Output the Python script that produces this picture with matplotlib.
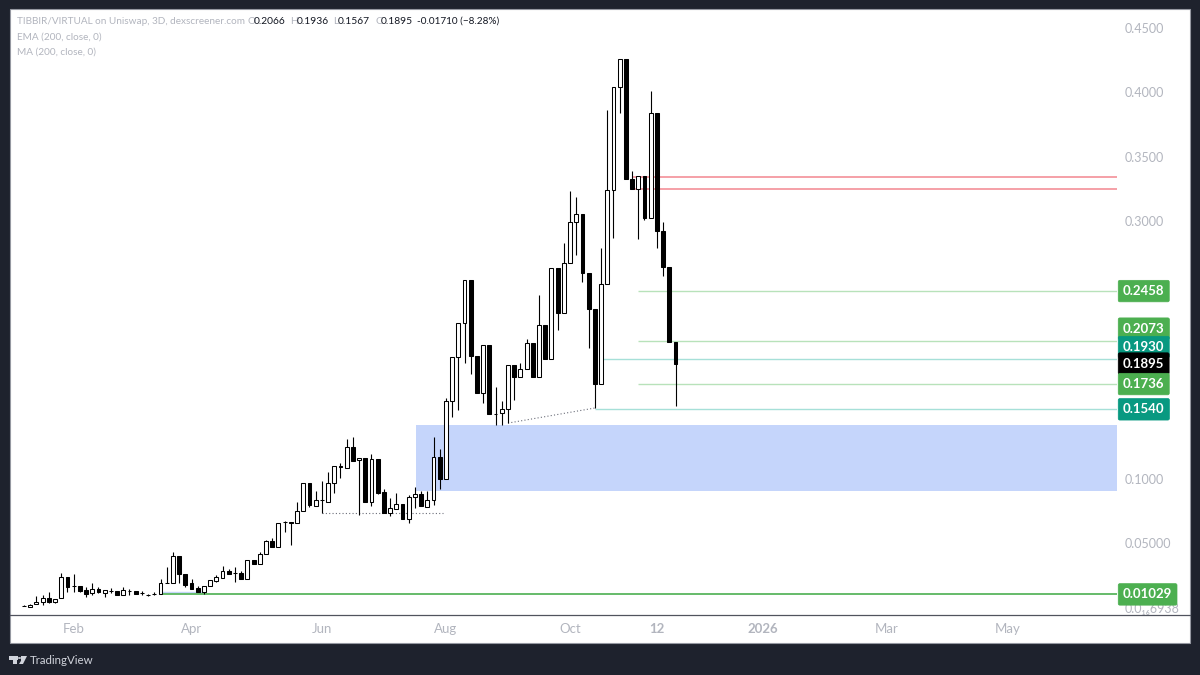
import matplotlib
matplotlib.use("Agg")
import matplotlib.pyplot as plt
from matplotlib.lines import Line2D
from matplotlib.patches import Rectangle, Polygon, Circle

opens = [
    .0009, .0005, .0028, .0043, .0075, .0043, .0075, .0238, .0171, .0168,
    .0137, .0113, .0144, .0113, .0133, .0129, .0098, .0129, .0129, .0113,
    .0098, .0109, .0106, .0191, .0191, .0401, .0261, .0191, .0152, .0121,
    .0168, .0207, .0230, .0284, .0269, .0269, .0222, .0370, .0339, .0416,
    .0517, .0470, .0665, .0665, .0657, .0750, .0967, .0789, .0835, .0820,
    .0967, .1099, .1084, .1247, .1146, .1161, .0820, .1154, .0898, .0734,
    .0765, .0804, .0688, .0859, .0882, .0781, .0835, .1169, .0998, .1604,
    .1946, .2210, .2544, .1953, .1666, .2039, .1503, .1511, .1542, .1884,
    .1790, .1852, .2054, .1790, .2194, .1930, .2637, .2287, .2675, .2994,
    .3056, .2598, .2318, .1736, .2512, .3242, .4042, .4259, .3328, .3250,
    .3351, .3025, .3840, .2924, .2644, .2066,
]
highs = [
    .0020, .0028, .0090, .0098, .0121, .0067, .0269, .0238, .0261, .0168,
    .0160, .0191, .0160, .0137, .0152, .0129, .0160, .0144, .0129, .0129,
    .0106, .0121, .0222, .0315, .0432, .0401, .0261, .0222, .0168, .0168,
    .0214, .0253, .0323, .0300, .0315, .0284, .0370, .0370, .0432, .0525,
    .0540, .0657, .0672, .0665, .0820, .0967, .0967, .0905, .0983, .1053,
    .1099, .1123, .1309, .1325, .1161, .1161, .1193, .1154, .0921, .0851,
    .0890, .0804, .0874, .0936, .0905, .0905, .1325, .1231, .1627, .1946,
    .2210, .2544, .2544, .1953, .2039, .2039, .1713, .1604, .1884, .1884,
    .1899, .2085, .2054, .2427, .2194, .2637, .2637, .2831, .3234, .3188,
    .3056, .2598, .2318, .2792, .3863, .4042, .4259, .4259, .3390, .3351,
    .3351, .4011, .3840, .2994, .2644, .1936,
]
lows = [
    .0009, .0005, .0028, .0020, .0036, .0036, .0075, .0121, .0121, .0121,
    .0082, .0098, .0113, .0082, .0113, .0098, .0098, .0098, .0106, .0098,
    .0090, .0098, .0106, .0191, .0191, .0191, .0160, .0144, .0121, .0106,
    .0168, .0199, .0230, .0261, .0199, .0222, .0222, .0339, .0339, .0416,
    .0470, .0470, .0587, .0486, .0657, .0750, .0781, .0789, .0734, .0820,
    .0890, .1006, .1084, .1138, .0719, .0820, .0789, .0882, .0734, .0711,
    .0765, .0688, .0657, .0773, .0789, .0781, .0797, .0921, .0998, .1480,
    .1534, .1899, .1814, .1666, .1588, .1503, .1418, .1418, .1433, .1612,
    .1790, .1852, .1790, .1790, .1930, .1930, .2155, .2287, .2675, .2738,
    .2528, .2016, .1550, .1736, .2512, .2870, .3840, .3328, .3250, .2862,
    .3009, .3025, .2792, .2575, .2066, .1567,
]
closes = [
    .0012, .0020, .0043, .0075, .0043, .0067, .0238, .0160, .0165, .0129,
    .0106, .0144, .0121, .0137, .0133, .0098, .0137, .0129, .0106, .0113,
    .0098, .0109, .0191, .0191, .0401, .0261, .0175, .0144, .0121, .0168,
    .0214, .0238, .0284, .0261, .0269, .0222, .0370, .0339, .0416, .0517,
    .0470, .0657, .0665, .0657, .0750, .0967, .0797, .0835, .0835, .0967,
    .1099, .1091, .1247, .1138, .1161, .0820, .1154, .0890, .0734, .0773,
    .0804, .0688, .0859, .0882, .0789, .0835, .1169, .0998, .1604, .1946,
    .2210, .2544, .1953, .1666, .2039, .1503, .1503, .1542, .1884, .1790,
    .1852, .2054, .1790, .2194, .1930, .2637, .2287, .2675, .2994, .3056,
    .2598, .2318, .1736, .2512, .3242, .4042, .4259, .3328, .3250, .3351,
    .3025, .3840, .2924, .2644, .2066, .1895,
]

month_ticks = [8, 27, 48, 68, 88, 102, 119, 139, 158.6]
month_labels = ["Feb", "Apr", "Jun", "Aug", "Oct", "12", "2026", "Mar", "May"]
bold_months = ["12", "2026"]

price_ticks = [0.0, 0.05, 0.10, 0.15, 0.20, 0.25, 0.30, 0.35, 0.40, 0.45]
price_tick_labels = ["0.0₁₆6938", "0.05000", "0.1000", "0.1500", "0.2000",
                     "0.2500", "0.3000", "0.3500", "0.4000", "0.4500"]

zone_low, zone_high = 0.0905, 0.1418
zone_start = 63.2
red_levels = [0.3344, 0.3250]
red_start = 98
green_levels = [0.2458, 0.2073, 0.1736]
green_start = 99.0
teal_levels = [0.1930, 0.1540]
teal_starts = [93, 92]
base_level = 0.01029
base_start = 22
base_top = 0.0121
base_top_end = 29
dotted_flat = ([48, 67.5], [0.0734, 0.0734])
dotted_rise = ([78, 92], [0.1433, 0.1550])

# price tags on the right: value, text, colour
tag_values = [0.2458, 0.2073, 0.1930, 0.1895, 0.1736, 0.1540, 0.01029]
tag_texts = ["0.2458", "0.2073", "0.1930", "0.1895", "0.1736", "0.1540", "0.01029"]
tag_colors = ["#4caf50", "#4caf50", "#089981", "#000000", "#4caf50", "#089981", "#4caf50"]
tag_shift_px = [0, 12, 12, 0, 0, 0, 0]

BG = "#1e222d"
GREY = "#b2b5be"
DARK = "#131722"
W, H = 1200, 675
PX = 72 / 100  # points per pixel at dpi 100


def px_rect(x0, y0, x1, y1):
    return [x0 / W, 1 - y1 / H, (x1 - x0) / W, (y1 - y0) / H]


def _candles(ax):
    xs = list(range(len(opens)))
    ax.vlines(xs, lows, highs, color="black", linewidth=0.8, zorder=4)
    for i, (o, c) in enumerate(zip(opens, closes)):
        face = "white" if c >= o else "black"
        ax.bar(i, abs(c - o), bottom=min(o, c), width=0.62, facecolor=face,
               edgecolor="black", linewidth=0.75, zorder=5)


def _levels(ax, right):
    left = ax.get_xlim()[0]
    ax.axhspan(zone_low, zone_high, xmin=(zone_start - left) / (right - left),
               color="#c5d5fb", linewidth=0, zorder=1)
    ax.hlines(red_levels, red_start, right, color="#f2868f", linewidth=1.1, zorder=2)
    ax.hlines(green_levels, green_start, right, color="#b8e2ba", linewidth=1.0, zorder=2)
    ax.hlines(teal_levels, teal_starts, right, color="#a6e0d8", linewidth=1.0, zorder=2)
    ax.hlines(base_top, base_start, base_top_end, color="#c5d5fb", linewidth=1.0, zorder=2)
    ax.hlines(base_level, base_start, right, color="#4caf50", linewidth=1.2, zorder=3)
    for xs, ys in (dotted_flat, dotted_rise):
        ax.plot(xs, ys, color="#6a6d78", linewidth=0.8, linestyle=(0, (1, 2)), zorder=3)


def _tags(ax):
    for val, txt, col, shift in zip(tag_values, tag_texts, tag_colors, tag_shift_px):
        ax.annotate(txt, xy=(1, val), xycoords=("axes fraction", "data"),
                    xytext=(6 * PX, shift * PX), textcoords="offset points",
                    color="white", fontsize=9.5, fontweight="bold", va="center", ha="left",
                    bbox=dict(boxstyle="round,pad=0.36,rounding_size=0.12", fc=col, ec=col, lw=0.5),
                    zorder=10, annotation_clip=False)


def _header(fig):
    rows = [(17, 21, "TIBBIR/VIRTUAL on Uniswap, 3D, dexscreener.com", GREY, 7.2),
            (17, 37, "EMA (200, close, 0)", GREY, 7.2),
            (17, 52, "MA (200, close, 0)", GREY, 7.2),
            (248, 21, "O", GREY, 7.4), (254, 21, "0.2066", DARK, 7.4),
            (290, 21, "H", GREY, 7.4), (297, 21, "0.1936", DARK, 7.4),
            (333, 21, "L", GREY, 7.4), (338, 21, "0.1567", DARK, 7.4),
            (375, 21, "C", GREY, 7.4), (381, 21, "0.1895", DARK, 7.4),
            (417, 21, "-0.01710 (−8.28%)", DARK, 7.2)]
    for x, y, txt, col, size in rows:
        fig.text(x / W, 1 - y / H, txt, color=col, fontsize=size, va="center", ha="left")


def _logo(fig):
    t = fig.transFigure
    fig.add_artist(Rectangle((9 / W, 1 - 660 / H), 9 / W, 4 / H, transform=t, color="#d1d4dc", lw=0))
    fig.add_artist(Rectangle((13 / W, 1 - 664 / H), 4 / W, 5 / H, transform=t, color="#d1d4dc", lw=0))
    fig.add_artist(Polygon([(21 / W, 1 - 664 / H), (26 / W, 1 - 656 / H), (21 / W, 1 - 656 / H)],
                           transform=t, color="#d1d4dc", lw=0))
    fig.add_artist(Polygon([(19 / W, 1 - 664 / H), (23 / W, 1 - 664 / H), (27 / W, 1 - 656 / H), (24 / W, 1 - 656 / H)],
                           transform=t, color="#d1d4dc", lw=0))
    fig.add_artist(Circle((19.5 / W, 1 - 658 / H), 1.6 / W, transform=t, color="#d1d4dc", lw=0))
    fig.text(30 / W, 1 - 660 / H, "TradingView", color="#d1d4dc", fontsize=8.3, va="center", ha="left")


def main():
    plt.rcParams["font.family"] = ["Lato", "DejaVu Sans"]
    fig = plt.figure(figsize=(12, 6.75), dpi=100, facecolor=BG)

    # white panel behind everything
    fig.add_artist(Rectangle((10 / W, 1 - 643 / H), 1180 / W, 634 / H, transform=fig.transFigure,
                             facecolor="white", edgecolor="#9598a1", linewidth=0.8, zorder=-1))

    ax = fig.add_axes(px_rect(10, 9, 1117, 615))
    ax.patch.set_alpha(0)
    left, right = -2.256, 176.15
    ax.set_xlim(left, right)
    ax.set_ylim(-0.0057, 0.4648)

    _levels(ax, right)
    _candles(ax)

    for s in ax.spines.values():
        s.set_visible(False)
    ax.set_xticks(month_ticks)
    ax.set_xticklabels(month_labels)
    ax.set_yticks(price_ticks)
    ax.set_yticklabels(price_tick_labels)
    ax.yaxis.tick_right()
    ax.tick_params(axis="y", length=0, pad=8 * PX, labelsize=9, labelcolor=GREY)
    ax.tick_params(axis="x", length=0, pad=5.5, labelsize=9.5, labelcolor=GREY)
    for lab in ax.get_xticklabels():
        if lab.get_text() in bold_months:
            lab.set_fontweight("bold")

    fig.add_artist(Line2D([10 / W, 1190 / W], [1 - 615 / H, 1 - 615 / H], color="#50535e", linewidth=0.9))

    _tags(ax)
    _header(fig)
    _logo(fig)

    fig.savefig("out.png", dpi=100, facecolor=BG)
    plt.close(fig)


if __name__ == "__main__":
    main()
